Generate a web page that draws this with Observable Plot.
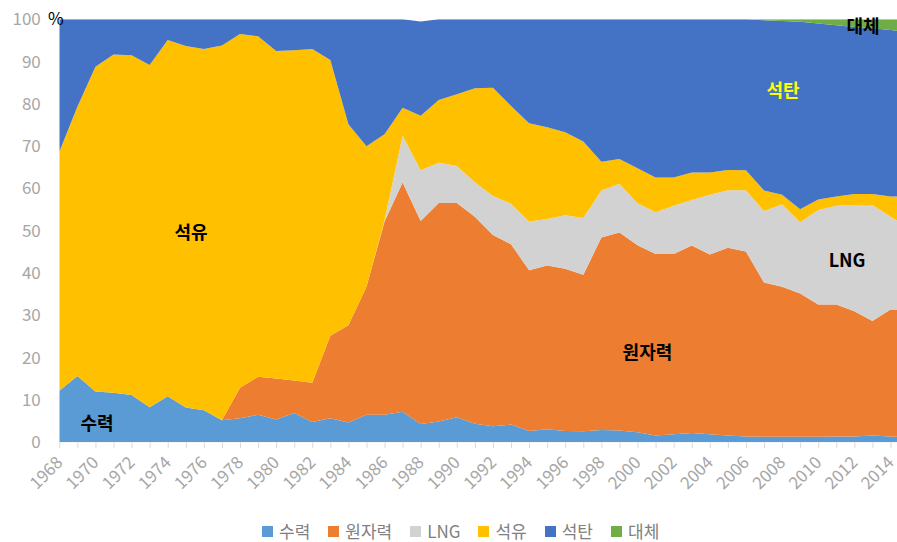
<!DOCTYPE html>
<html>
<head>
<meta charset="utf-8">
<script src="https://cdn.jsdelivr.net/npm/d3@7"></script>
<script src="https://cdn.jsdelivr.net/npm/@observablehq/plot@0.6"></script>
<style>
  html, body { margin: 0; padding: 0; background: #fff; overflow: hidden; }
  #wrap { position: relative; width: 897px; height: 542px; font-family: "Noto Sans CJK KR", "Noto Sans", sans-serif; }
  #legend { position: absolute; left: 262px; top: 520px; height: 22px; display: flex; align-items: center; gap: 18px; }
  .item { display: flex; align-items: center; gap: 6px; font-size: 17px; color: #808080; line-height: 22px; height: 22px; }
  .sw { width: 11px; height: 11px; display: inline-block; }
</style>
</head>
<body>
<div id="wrap"><div id="chart"></div><div id="legend"></div></div>
<script>
// Years 1968–2015 (2015 only partly visible at the right edge)
const years = d3.range(1968, 2016);

const seriesNames = ["수력", "원자력", "LNG", "석유", "석탄", "대체"];
const colors = ["#5B9BD5", "#ED7D31", "#D2D2D2", "#FFC000", "#4472C4", "#70AD47"];

const hydro = [12.2,15.7,12.0,11.7,11.2,8.3,10.9,8.2,7.6,5.2,
  5.7,6.5,5.4,6.9,4.8,5.7,4.7,6.5,6.5,7.2,
  4.3,4.9,5.9,4.4,3.8,4.2,2.7,3.1,2.7,2.6,
  2.9,2.8,2.4,1.6,1.9,2.2,1.9,1.6,1.4,1.3,
  1.3,1.3,1.3,1.4,1.4,1.6,1.4,1.2];
const nuclear = [0,0,0,0,0,0,0,0,0,0,
  7.2,9.0,9.7,7.7,9.3,19.5,23.0,30.3,45.7,54.2,
  48.0,51.7,50.7,48.9,45.2,42.6,38.0,38.7,38.3,37.0,
  45.5,46.8,44.2,42.9,42.6,44.3,42.5,44.4,43.7,36.5,
  35.5,33.9,31.3,31.2,29.6,27.1,30.0,30.2];
const lng = [0,0,0,0,0,0,0,0,0,0,
  0,0,0,0,0,0,0,0,0.3,11.1,
  12.0,9.5,8.7,8.2,9.2,9.6,11.5,11.0,12.7,13.4,
  11.1,11.5,9.9,9.9,11.4,10.8,14.1,13.6,14.5,16.9,
  19.5,16.8,22.3,23.3,25.1,27.4,21.9,19.5];
const oil = [56.5,63.6,76.8,80.0,80.3,80.9,84.2,85.5,85.4,88.6,
  83.6,80.5,77.4,78.1,78.9,65.2,47.5,33.2,20.3,6.6,
  12.9,14.8,17.0,22.2,25.6,23.1,23.2,21.7,19.6,18.1,
  6.8,5.9,8.3,8.2,6.7,6.5,5.3,4.8,4.7,4.8,
  2.2,3.1,2.5,2.2,2.6,2.6,4.8,7.2];
const coal = [31.3,20.7,11.2,8.3,8.5,10.8,4.9,6.3,7.0,6.2,
  3.5,4.0,7.5,7.3,7.0,9.6,24.8,30.0,27.2,20.9,
  22.3,19.1,17.7,16.3,16.2,20.5,24.6,25.5,26.7,28.9,
  33.7,33.0,35.2,37.4,37.4,36.2,36.2,35.6,35.7,40.3,
  41.1,44.3,41.6,40.5,39.5,39.2,39.4,38.9];
const alt = [0,0,0,0,0,0,0,0,0,0,
  0,0,0,0,0,0,0,0,0,0,
  0,0,0,0,0,0,0,0,0,0,
  0,0,0,0,0,0,0,0,0,0.2,
  0.4,0.6,1.0,1.4,1.8,2.1,2.5,3.0];

const yTicks = [0,10,20,30,40,50,60,70,80,90,100];
const xLabelYears = [1968,1970,1972,1974,1976,1978,1980,1982,1984,1986,1988,1990,1992,1994,1996,1998,2000,2002,2004,2006,2008,2010,2012,2014];
const xTickYears = d3.range(1968, 2015);

// In-chart series labels (position in data units)
const areaLabels = [
  {text: "수력", year: 1970.06, value: 4.3, color: "#000"},
  {text: "석유", year: 1975.26, value: 49.5, color: "#000"},
  {text: "원자력", year: 2000.52, value: 21.2, color: "#000"},
  {text: "석탄", year: 2008.02, value: 83.0, color: "#FFFF00"},
  {text: "LNG", year: 2011.57, value: 42.9, color: "#000"},
  {text: "대체", year: 2012.45, value: 98.2, color: "#000"}
];

const seriesValues = [hydro, nuclear, lng, oil, coal, alt];
const rows = [];
seriesNames.forEach((name, i) => {
  seriesValues[i].forEach((v, j) => rows.push({year: years[j], series: name, value: v}));
});

const font = '"Noto Sans CJK KR", "Noto Sans", sans-serif';

const chart = Plot.plot({
  width: 897,
  height: 515,
  marginLeft: 59.3,
  marginRight: 0,
  marginTop: 19.3,
  marginBottom: 72.7,
  style: {fontFamily: font, background: "transparent", overflow: "visible"},
  x: {type: "linear", domain: [1968, 2014.36], label: null},
  y: {domain: [0, 100], label: null},
  color: {domain: seriesNames, range: colors},
  marks: [
    Plot.areaY(rows, {x: "year", y: "value", z: "series", fill: "series", order: seriesNames, clip: true}),
    Plot.axisY({ticks: yTicks, tickSize: 0, tickPadding: 19, fontSize: 17, color: "#A6A6A6", label: null}),
    Plot.axisX({ticks: xTickYears, tickSize: 6, tickFormat: () => "", color: "#D9D9D9", label: null}),
    Plot.axisX({ticks: xLabelYears, tickSize: 0, tickPadding: 17, tickRotate: -45, tickFormat: d => String(d), fontSize: 17, color: "#A6A6A6", label: null}),
    Plot.text(["%"], {x: 1968, y: 100, text: d => d, dx: -4, fontSize: 17, fill: "#000", textAnchor: "middle"}),
    Plot.text(areaLabels, {x: "year", y: "value", text: "text", fill: d => d.color, fontSize: 18, fontWeight: "bold", textAnchor: "middle"})
  ]
});
document.getElementById("chart").append(chart);

const legend = document.getElementById("legend");
seriesNames.forEach((name, i) => {
  const it = document.createElement("div");
  it.className = "item";
  const sw = document.createElement("span");
  sw.className = "sw";
  sw.style.background = colors[i];
  const t = document.createElement("span");
  t.textContent = name;
  it.append(sw, t);
  legend.append(it);
});
</script>
</body>
</html>
